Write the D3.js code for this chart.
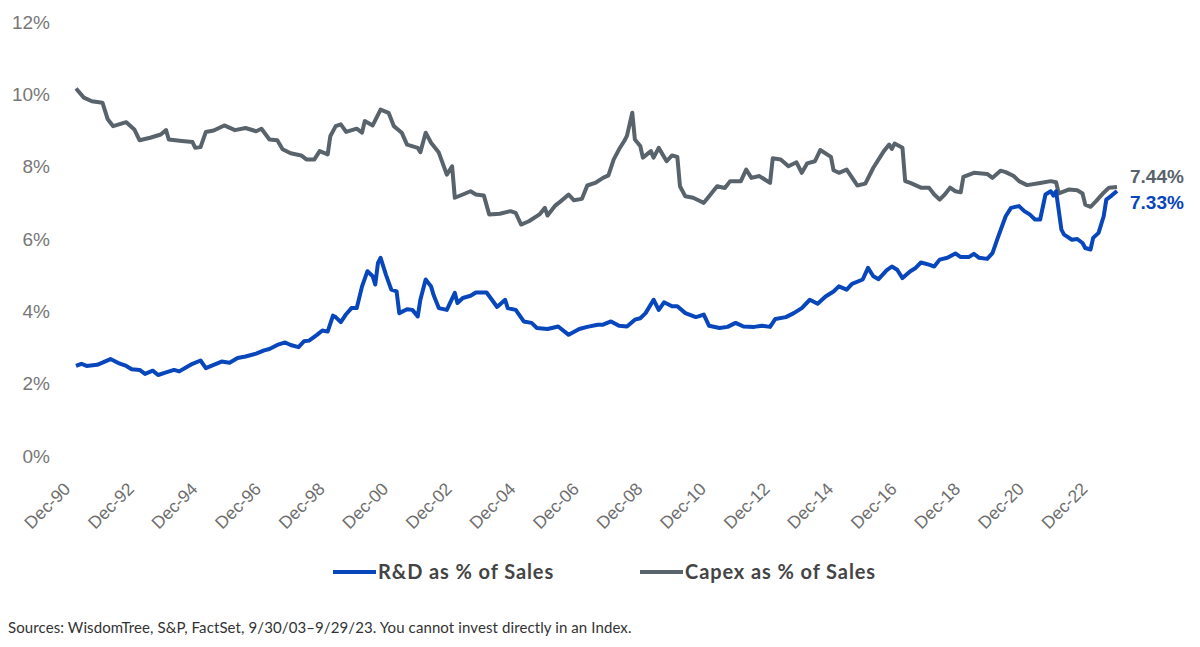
<!DOCTYPE html>
<html>
<head>
<meta charset="utf-8">
<script src="https://cdn.jsdelivr.net/npm/d3@7"></script>
<style>
  body { margin: 0; background: #fff; }
  svg { display: block; }
</style>
</head>
<body>
<script>
// capex as % of sales
var capexDates = ["1990-12","1991-03","1991-06","1991-10","1991-12","1992-02","1992-07","1992-10","1992-12","1993-04",
  "1993-08","1993-10","1993-11","1994-04","1994-08","1994-09","1994-11","1995-01","1995-04","1995-08",
  "1995-12","1996-04","1996-08","1996-10","1997-01","1997-04","1997-06","1997-09","1998-01","1998-03",
  "1998-06","1998-08","1998-11","1998-12","1999-02","1999-04","1999-06","1999-10","1999-12","2000-01",
  "2000-04","2000-07","2000-10","2000-12","2001-03","2001-05","2001-09","2001-10","2001-12","2002-02",
  "2002-05","2002-08","2002-10","2002-11","2003-02","2003-05","2003-07","2003-10","2003-12","2004-04",
  "2004-08","2004-10","2004-12","2005-03","2005-07","2005-09","2005-10","2006-01","2006-03","2006-06",
  "2006-08","2006-11","2007-01","2007-04","2007-07","2007-09","2007-11","2008-01","2008-03","2008-04",
  "2008-06","2008-07","2008-09","2008-10","2009-01","2009-02","2009-04","2009-07","2009-09","2009-11",
  "2009-12","2010-02","2010-05","2010-07","2010-09","2010-11","2011-02","2011-05","2011-07","2011-11",
  "2012-01","2012-03","2012-06","2012-10","2012-11","2013-02","2013-05","2013-08","2013-10","2013-12",
  "2014-03","2014-05","2014-09","2014-10","2014-12","2015-03","2015-07","2015-10","2016-01","2016-05",
  "2016-07","2016-08","2016-09","2016-12","2017-01","2017-03","2017-07","2017-10","2017-12","2018-02",
  "2018-04","2018-06","2018-08","2018-10","2018-11","2019-03","2019-08","2019-10","2020-01","2020-03",
  "2020-06","2020-08","2020-11","2021-04","2021-08","2021-10","2021-11","2022-03","2022-06","2022-08",
  "2022-09","2022-11","2023-01","2023-04","2023-06","2023-09"];
var capexValues = [10.16,9.91,9.81,9.77,9.31,9.12,9.23,9.03,8.73,8.80,
  8.89,9.01,8.75,8.71,8.68,8.52,8.54,8.96,9.00,9.14,
  9.01,9.07,8.98,9.05,8.75,8.73,8.48,8.37,8.31,8.20,
  8.20,8.43,8.34,8.84,9.12,9.17,8.96,9.05,8.94,9.26,
  9.14,9.58,9.49,9.12,8.94,8.61,8.52,8.40,8.94,8.66,
  8.39,7.78,8.01,7.14,7.23,7.32,7.23,7.20,6.68,6.70,
  6.77,6.72,6.40,6.49,6.68,6.86,6.65,6.93,7.04,7.23,
  7.07,7.11,7.48,7.55,7.69,7.76,8.20,8.48,8.71,8.85,
  9.49,8.75,8.57,8.25,8.43,8.25,8.52,8.15,8.31,8.27,
  7.46,7.18,7.14,7.07,7.00,7.18,7.46,7.41,7.60,7.60,
  7.92,7.69,7.74,7.55,8.23,8.20,8.01,8.12,7.83,8.09,
  8.15,8.46,8.27,7.90,7.83,7.92,7.48,7.53,7.97,8.43,
  8.61,8.49,8.64,8.52,7.60,7.55,7.42,7.42,7.23,7.09,
  7.23,7.42,7.32,7.29,7.72,7.83,7.80,7.69,7.89,7.85,
  7.74,7.60,7.49,7.55,7.60,7.57,7.26,7.37,7.35,7.26,
  6.95,6.89,7.04,7.28,7.42,7.44];

// R&D as % of sales
var rdDates = ["1990-12","1991-02","1991-04","1991-08","1991-10","1992-01","1992-04","1992-07","1992-09","1992-12",
  "1993-02","1993-05","1993-07","1993-10","1994-01","1994-03","1994-06","1994-08","1994-11","1995-01",
  "1995-04","1995-07","1995-10","1996-01","1996-04","1996-08","1996-11","1997-01","1997-04","1997-07",
  "1997-09","1997-12","1998-02","1998-04","1998-07","1998-09","1998-11","1999-01","1999-02","1999-04",
  "1999-06","1999-08","1999-10","1999-12","2000-02","2000-04","2000-05","2000-06","2000-07","2000-09",
  "2000-11","2001-01","2001-02","2001-05","2001-07","2001-09","2001-10","2001-12","2002-02","2002-03",
  "2002-05","2002-08","2002-11","2002-12","2003-02","2003-05","2003-07","2003-11","2004-01","2004-03",
  "2004-06","2004-07","2004-10","2005-01","2005-04","2005-06","2005-10","2006-02","2006-06","2006-10",
  "2007-01","2007-05","2007-07","2007-10","2008-01","2008-04","2008-07","2008-09","2008-11","2009-02",
  "2009-04","2009-06","2009-09","2009-11","2010-02","2010-06","2010-07","2010-09","2010-11","2011-03",
  "2011-06","2011-09","2011-12","2012-04","2012-07","2012-10","2012-12","2013-04","2013-07","2013-10",
  "2014-01","2014-04","2014-07","2014-10","2014-12","2015-03","2015-05","2015-09","2015-11","2016-01",
  "2016-03","2016-06","2016-08","2016-10","2016-12","2017-03","2017-05","2017-07","2017-10","2017-12",
  "2018-02","2018-05","2018-08","2018-10","2019-01","2019-03","2019-05","2019-08","2019-10","2019-12",
  "2020-03","2020-05","2020-08","2020-10","2020-12","2021-02","2021-04","2021-06","2021-08","2021-09",
  "2021-10","2021-12","2022-01","2022-04","2022-06","2022-08","2022-09","2022-11","2022-12","2023-02",
  "2023-04","2023-05","2023-07","2023-09"];
var rdValues = [2.49,2.55,2.49,2.52,2.58,2.68,2.57,2.49,2.40,2.38,
  2.27,2.36,2.24,2.31,2.38,2.34,2.47,2.55,2.64,2.43,
  2.52,2.61,2.58,2.71,2.75,2.83,2.92,2.96,3.07,3.14,
  3.07,3.01,3.17,3.19,3.35,3.47,3.44,3.88,3.84,3.70,
  3.92,4.09,4.09,4.69,5.11,4.97,4.74,5.34,5.48,5.01,
  4.60,4.55,3.95,4.06,4.04,3.86,4.32,4.88,4.69,4.46,
  4.09,4.04,4.51,4.23,4.37,4.43,4.52,4.52,4.32,4.12,
  4.32,4.09,4.04,3.72,3.68,3.54,3.51,3.58,3.35,3.51,
  3.57,3.63,3.63,3.72,3.60,3.58,3.77,3.81,3.95,4.32,
  4.04,4.25,4.14,4.14,3.95,3.84,3.86,3.91,3.60,3.54,
  3.57,3.68,3.58,3.57,3.60,3.57,3.79,3.84,3.95,4.09,
  4.32,4.21,4.41,4.55,4.69,4.60,4.76,4.88,5.20,4.97,
  4.89,5.13,5.24,5.15,4.92,5.11,5.20,5.35,5.29,5.24,
  5.43,5.48,5.60,5.50,5.50,5.59,5.48,5.45,5.61,6.03,
  6.63,6.86,6.91,6.77,6.68,6.54,6.54,7.23,7.32,7.20,
  7.32,6.26,6.12,5.98,6.00,5.89,5.75,5.71,6.03,6.17,
  6.63,7.09,7.20,7.33];

var yTicks = [0, 2, 4, 6, 8, 10, 12];
var xTickYears = [1990,1992,1994,1996,1998,2000,2002,2004,2006,2008,2010,2012,2014,2016,2018,2020,2022];
var seriesNames = ["R&D as % of Sales", "Capex as % of Sales"];
var endLabels = ["7.33%", "7.44%"];

function init() {
    var w = 1200;
    var h = 647;
    var blue = "#0846bb";
    var grey = "#59636b";
    var parse = d3.timeParse("%Y-%m");

    var capex = capexDates.map((d, i) => ({ date: parse(d), value: capexValues[i] }));
    var rd = rdDates.map((d, i) => ({ date: parse(d), value: rdValues[i] }));

    var xScale = d3.scaleTime()
                    .domain([parse("1990-12"), parse("2023-09")])
                    .range([76, 1117]);
    var yScale = d3.scaleLinear()
                    .domain([0, 12])
                    .range([456, 22]);

    var svg = d3.select("body")
                .append("svg")
                .attr("width", w)
                .attr("height", h)
                .style("font-family", "Lato, 'Open Sans', sans-serif");

    // y axis: labels only, no line or ticks
    var yAxis = d3.axisLeft(yScale)
                  .tickValues(yTicks)
                  .tickSize(0)
                  .tickPadding(0)
                  .tickFormat(d => d + "%");
    var gy = svg.append("g")
                .attr("transform", "translate(50,0)")
                .call(yAxis);
    gy.select(".domain").remove();
    gy.selectAll("text")
      .attr("fill", "#777")
      .style("font-size", "19px")
      .style("font-weight", "300");

    // x axis with rotated labels
    var xAxis = d3.axisBottom(xScale)
                  .tickValues(xTickYears.map(y => new Date(y, 11, 1)))
                  .tickSize(0)
                  .tickFormat(d3.timeFormat("Dec-%y"));
    var gx = svg.append("g")
                .attr("transform", "translate(0,456)")
                .call(xAxis);
    gx.select(".domain").remove();
    gx.selectAll("text")
      .attr("fill", "#6e6e6e")
      .style("font-size", "17.5px")
      .style("text-anchor", "end")
      .attr("y", 0)
      .attr("dy", 0)
      .attr("transform", "translate(-5,34) rotate(-45)");

    var line = d3.line()
                 .x(d => xScale(d.date))
                 .y(d => yScale(d.value));

    svg.append("path")
       .datum(capex)
       .attr("fill", "none")
       .attr("stroke", grey)
       .attr("stroke-width", 4)
       .attr("stroke-linejoin", "round")
       .attr("d", line);

    svg.append("path")
       .datum(rd)
       .attr("fill", "none")
       .attr("stroke", blue)
       .attr("stroke-width", 4)
       .attr("stroke-linejoin", "round")
       .attr("d", line);

    // end value labels
    var lastCapex = capex[capex.length - 1];
    var lastRd = rd[rd.length - 1];
    svg.append("text")
       .attr("x", xScale(lastCapex.date) + 13)
       .attr("y", 183)
       .attr("fill", grey)
       .style("font-family", "'Liberation Sans', Arial, sans-serif")
       .style("font-size", "19px")
       .style("font-weight", "bold")
       .text(endLabels[1]);
    svg.append("text")
       .attr("x", xScale(lastRd.date) + 13)
       .attr("y", 209)
       .attr("fill", blue)
       .style("font-family", "'Liberation Sans', Arial, sans-serif")
       .style("font-size", "19px")
       .style("font-weight", "bold")
       .text(endLabels[0]);

    // legend
    var legend = svg.append("g");
    var legendX = [333, 640];
    var legendColors = [blue, grey];
    seriesNames.forEach(function(name, i) {
        legend.append("line")
              .attr("x1", legendX[i])
              .attr("x2", legendX[i] + 43)
              .attr("y1", 572)
              .attr("y2", 572)
              .attr("stroke", legendColors[i])
              .attr("stroke-width", 4);
        legend.append("text")
              .attr("x", legendX[i] + 45)
              .attr("y", 579)
              .attr("fill", "#444")
              .style("font-size", "20px")
              .style("font-weight", "bold")
              .style("letter-spacing", "0.9px")
              .text(name);
    });

    // source note
    svg.append("text")
       .attr("x", 8)
       .attr("y", 633)
       .attr("fill", "#333")
       .style("font-size", "15px")
       .style("letter-spacing", "0.1px")
       .text("Sources: WisdomTree, S&P, FactSet, 9/30/03\u20139/29/23. You cannot invest directly in an Index.");
}
window.onload = init;
</script>
</body>
</html>
